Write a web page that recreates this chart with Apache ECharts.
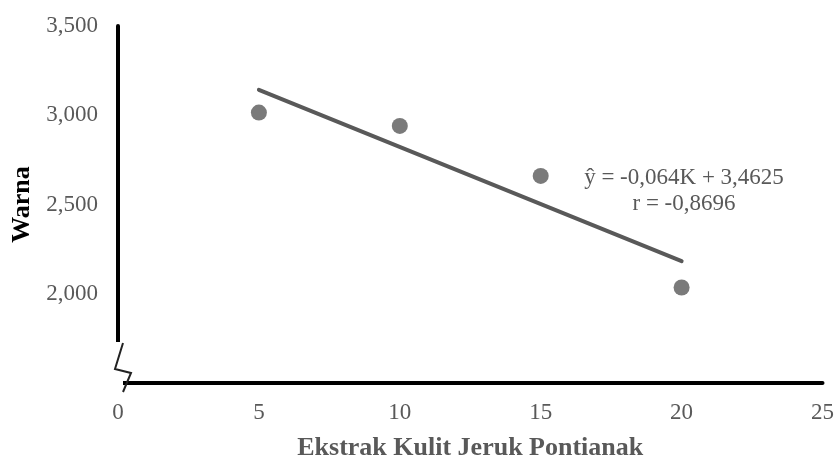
<!DOCTYPE html>
<html>
<head>
<meta charset="utf-8">
<script src="https://cdn.jsdelivr.net/npm/echarts@6/dist/echarts.min.js"></script>
<style>
html,body{margin:0;padding:0;background:#fff;}
#chart{width:837px;height:466px;}
</style>
</head>
<body>
<div id="chart"></div>
<script>
// ---- data ----
var concentrations = [5, 10, 15, 20];          // Ekstrak Kulit Jeruk Pontianak
var warnaValues = [3.015, 2.94, 2.66, 2.035];   // Warna
var trendX = [5, 20];
var trendY = [3.1425, 2.1825];
var equationLines = ['\u0177 = -0,064K + 3,4625', 'r = -0,8696'];
var xAxisTitle = 'Ekstrak Kulit Jeruk Pontianak';
var yAxisTitle = 'Warna';

var gray = '#595959';
var font = '"Liberation Serif", "Times New Roman", serif';

var chart = echarts.init(document.getElementById('chart'), null, {renderer: 'canvas'});

function fmtY(v) {
  if (Math.abs(v - 1.5) < 1e-9) return '';
  return v.toFixed(3).replace('.', ',');
}

var option = {
  backgroundColor: '#ffffff',
  animation: false,
  grid: {left: 118, right: 14, top: 26, bottom: 76, containLabel: false},
  xAxis: {
    type: 'value', min: 0, max: 25, interval: 5,
    name: xAxisTitle, nameLocation: 'middle', nameGap: 52,
    nameTextStyle: {color: gray, fontFamily: font, fontSize: 26, fontWeight: 'bold'},
    axisLine: {show: true, onZero: false, lineStyle: {color: '#000', width: 4}},
    axisTick: {show: false},
    splitLine: {show: false},
    axisLabel: {color: gray, fontFamily: font, fontSize: 23, margin: 18}
  },
  yAxis: {
    type: 'value', min: 1.5, max: 3.5, interval: 0.5,
    name: yAxisTitle, nameLocation: 'middle', nameGap: 82,
    nameTextStyle: {color: '#000', fontFamily: font, fontSize: 26, fontWeight: 'bold'},
    axisLine: {show: true, onZero: false, lineStyle: {color: '#000', width: 4}},
    axisTick: {show: false},
    splitLine: {show: false},
    axisLabel: {color: gray, fontFamily: font, fontSize: 23, margin: 20, formatter: fmtY}
  },
  series: [
    {
      type: 'line',
      data: trendX.map(function (x, i) { return [x, trendY[i]]; }),
      showSymbol: false, symbol: 'none',
      lineStyle: {color: gray, width: 4, cap: 'round'},
      z: 2
    },
    {
      type: 'scatter',
      data: concentrations.map(function (x, i) { return [x, warnaValues[i]]; }),
      symbol: 'circle', symbolSize: 16,
      itemStyle: {color: gray},
      z: 3
    }
  ],
  graphic: [
    {type: 'rect', z: 100, shape: {x: 108, y: 342, width: 15, height: 52}, style: {fill: '#fff'}},
    {type: 'polyline', z: 101,
      shape: {points: [[123, 343], [115, 369], [131, 373], [123, 392]]},
      style: {stroke: '#222', lineWidth: 2, fill: null}},
    {type: 'text', z: 101, x: 684, y: 178,
      style: {text: equationLines[0], fill: gray, font: '23px ' + font, textAlign: 'center', textVerticalAlign: 'middle'}},
    {type: 'text', z: 101, x: 684, y: 204,
      style: {text: equationLines[1], fill: gray, font: '23px ' + font, textAlign: 'center', textVerticalAlign: 'middle'}}
  ]
};
chart.setOption(option);
</script>
</body>
</html>
